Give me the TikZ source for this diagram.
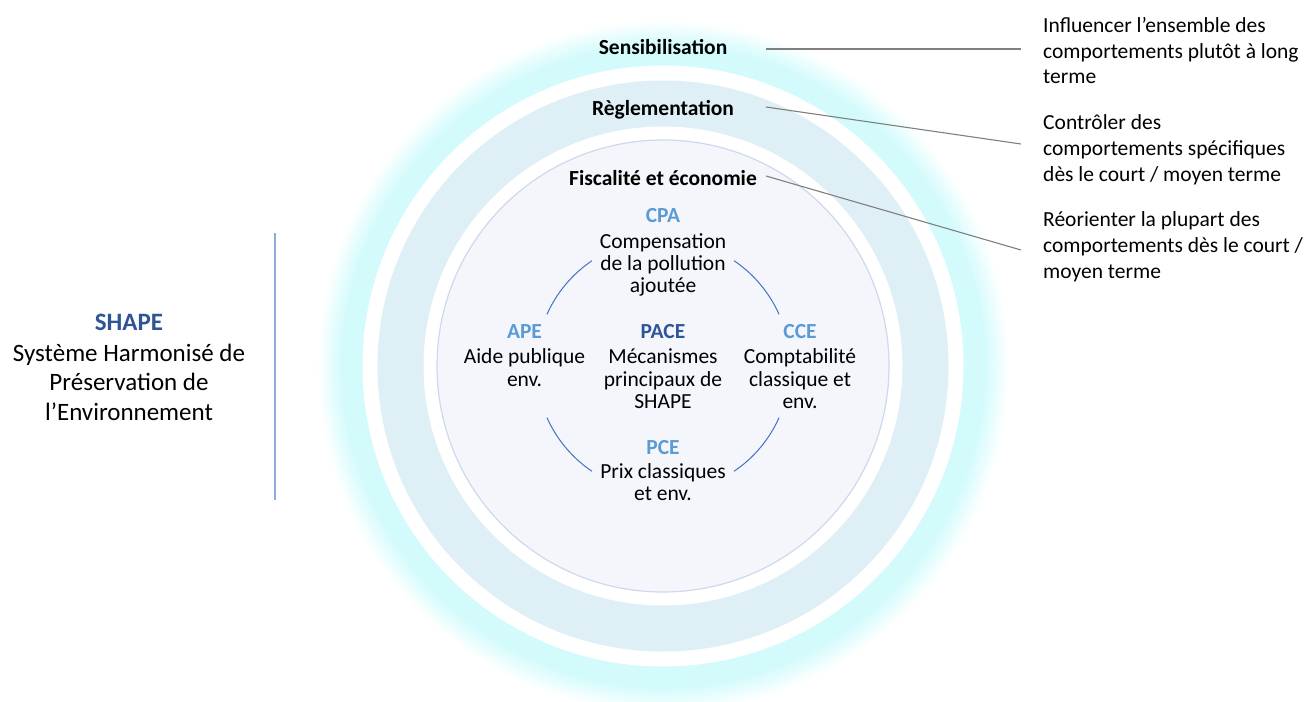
\documentclass[tikz,border=0pt]{standalone}
\usepackage{fontspec}
\setmainfont{Carlito}
\usetikzlibrary{positioning}

\definecolor{halo}{RGB}{212,251,252}
\definecolor{anneau}{RGB}{222,239,246}
\definecolor{fondint}{RGB}{244,246,251}
\definecolor{bordint}{RGB}{208,216,238}
\definecolor{sigleclair}{RGB}{91,155,213}
\definecolor{siglefonce}{RGB}{47,85,151}
\definecolor{arcbleu}{RGB}{68,114,196}
\definecolor{traitgris}{RGB}{127,127,127}
\definecolor{barre}{RGB}{143,170,220}

\pgfdeclareradialshading{halofondu}{\pgfpoint{0bp}{0bp}}{color(0bp)=(halo); color(21.5bp)=(halo); color(23.2bp)=(halo); color(24.2bp)=(halo!45); color(25bp)=(white); color(50bp)=(white)}

\begin{document}
\begin{tikzpicture}[x=1pt, y=-1pt,
    niveau/.style={font=\bfseries\fontsize{21.5}{25}\selectfont, inner sep=0pt, anchor=base},
    sigle/.style={font=\bfseries\fontsize{21.5}{25}\selectfont, text=sigleclair, inner sep=0pt, anchor=base},
    corps/.style={font=\fontsize{21.5}{22.3}\selectfont, align=center, inner sep=0pt},
    remarque/.style={font=\fontsize{21.5}{25.6}\selectfont, align=left, inner sep=0pt, anchor=north west},
    lien/.style={draw=traitgris, line width=1.1pt},
    arcmeca/.style={draw=arcbleu, line width=1pt}]

\useasboundingbox (0,0) rectangle (1311,701);
\coordinate (ctr) at (663,366);

% anneaux
\shade[shading=halofondu] (ctr) circle (346pt);
\fill[white] (ctr) circle (300.5pt);
\fill[anneau] (ctr) circle (285.5pt);
\fill[white] (ctr) circle (239.5pt);
\filldraw[fill=fondint, draw=bordint, line width=1.2pt] (ctr) circle (226pt);

% niveaux
\node[niveau] (sens) at (663,54.5) {Sensibilisation};
\node[niveau] (regl) at (663,115) {Règlementation};
\node[niveau] (fisc) at (663,185.5) {Fiscalité et économie};

% mecanismes
\node[sigle] (cpa) at (663,222.7) {CPA};
\node[corps, below=10pt of cpa] (cpa-t) {Compensation\\de la pollution\\ajoutée};
\node[sigle] (ape) at (524.5,338.5) {APE};
\node[corps, below=10pt of ape] (ape-t) {Aide publique\\env.};
\node[sigle, text=siglefonce] (pace) at (663,338.5) {PACE};
\node[corps, below=10pt of pace] (pace-t) {Mécanismes\\principaux de\\SHAPE};
\node[sigle] (cce) at (800,338.5) {CCE};
\node[corps, below=10pt of cce] (cce-t) {Comptabilité\\classique et\\env.};
\node[sigle] (pce) at (663,454) {PCE};
\node[corps, below=9pt of pce] (pce-t) {Prix classiques\\et env.};

\foreach \a in {24,124,204,304}
  \draw[arcmeca] (ctr) ++(\a:127pt) arc[start angle=\a, delta angle=32, radius=127pt];

% remarques
\node[remarque] (infl) at (1043,17.3) {Influencer l’ensemble des\\comportements plutôt à long\\terme};
\node[remarque] (ctrl) at (1043,114.8) {Contrôler des\\comportements spécifiques\\dès le court / moyen terme};
\node[remarque] (reor) at (1043,211.8) {Réorienter la plupart des\\comportements dès le court /\\moyen terme};

\coordinate (sens-d) at (766,49);
\coordinate (infl-g) at (1021,49);
\coordinate (regl-d) at (766,107);
\coordinate (ctrl-g) at (1021,144);
\coordinate (fisc-d) at (766,176);
\coordinate (reor-g) at (1021,250);
\draw[lien] (sens-d) -- (infl-g);
\draw[lien] (regl-d) -- (ctrl-g);
\draw[lien] (fisc-d) -- (reor-g);

% titre
\node[font=\bfseries\fontsize{25}{30}\selectfont, text=siglefonce, inner sep=0pt, anchor=base] (shape) at (129,330.5) {SHAPE};
\node[font=\fontsize{25}{29.4}\selectfont, align=center, inner sep=0pt, below=13pt of shape] (shape-t) {Système Harmonisé de\\Préservation de\\l’Environnement};
\draw[draw=barre, line width=2pt] (275,233) -- (275,500);
\end{tikzpicture}
\end{document}
